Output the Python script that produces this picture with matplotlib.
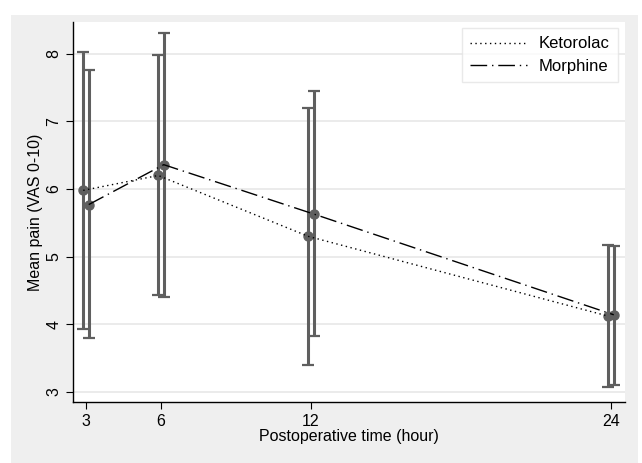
import matplotlib.pyplot as plt
from matplotlib.patches import Rectangle
import numpy as np

plt.rcParams['font.family'] = ['Liberation Sans', 'DejaVu Sans']

hours = [3, 6, 12, 24]
keto_mean = [5.98, 6.20, 5.30, 4.12]
keto_low = [3.93, 4.43, 3.40, 3.07]
keto_high = [8.02, 7.98, 7.20, 5.17]
morph_mean = [5.77, 6.36, 5.63, 4.14]
morph_low = [3.79, 4.41, 3.82, 3.10]
morph_high = [7.76, 8.31, 7.45, 5.15]

W, H = 642, 463
fig = plt.figure(figsize=(W / 100, H / 100), dpi=100, facecolor='white')
fig.add_artist(Rectangle((11 / W, 0), (638 - 11) / W, (H - 15) / H,
                         transform=fig.transFigure, facecolor='#efefef',
                         edgecolor='none', zorder=-10))
ax = fig.add_axes([73 / W, (H - 402) / H, (625 - 73) / W, (402 - 22) / H])
ax.set_zorder(5)
ax.set_facecolor('white')

x = np.array(hours, dtype=float)
err_col = '#5f5f5f'

def draw(xs, mean, low, high, ls, label):
    mean = np.array(mean)
    yerr = [mean - np.array(low), np.array(high) - mean]
    ax.errorbar(xs, mean, yerr=yerr, fmt='none', ecolor=err_col,
                elinewidth=2.2, capsize=4, capthick=1.6, zorder=2)
    ax.plot(xs, mean, linestyle='none', marker='o', markersize=6.5,
            color=err_col, zorder=3)
    ax.plot(xs, mean, linestyle=ls, color='black', linewidth=1.0,
            label=label, zorder=4)

draw(x - 0.11, keto_mean, keto_low, keto_high, (0, (1, 2.5)), 'Ketorolac')
draw(x + 0.11, morph_mean, morph_low, morph_high, (0, (12, 3.5, 1, 3.5)), 'Morphine')

ax.set_xlim(2.48, 24.56)
ax.set_ylim(2.85, 8.47)
ax.set_xticks(hours)
ax.set_yticks([3, 4, 5, 6, 7, 8])
ax.set_yticklabels(['3', '4', '5', '6', '7', '8'], rotation=90, va='center')
ax.grid(axis='y', color='#e8e8e8', linewidth=1.2)
ax.set_axisbelow(True)
for s in ['top', 'right']:
    ax.spines[s].set_visible(False)
for s in ['left', 'bottom']:
    ax.spines[s].set_linewidth(1.0)
ax.tick_params(direction='out', length=5, width=0.8, labelsize=11.5)
ax.set_xlabel('Postoperative time (hour)', fontsize=11.5, labelpad=0)
ax.set_ylabel('Mean pain (VAS 0-10)', fontsize=11.5, labelpad=2)

leg = ax.legend(loc='upper right', bbox_to_anchor=(0.987, 0.984), fontsize=12,
                frameon=True, fancybox=False, handlelength=3.4,
                handletextpad=0.7, borderpad=0.5, labelspacing=0.45,
                borderaxespad=0)
leg.get_frame().set_edgecolor('#e4e4e4')
leg.get_frame().set_linewidth(1.0)

fig.savefig('out.png', dpi=100, facecolor='white')
